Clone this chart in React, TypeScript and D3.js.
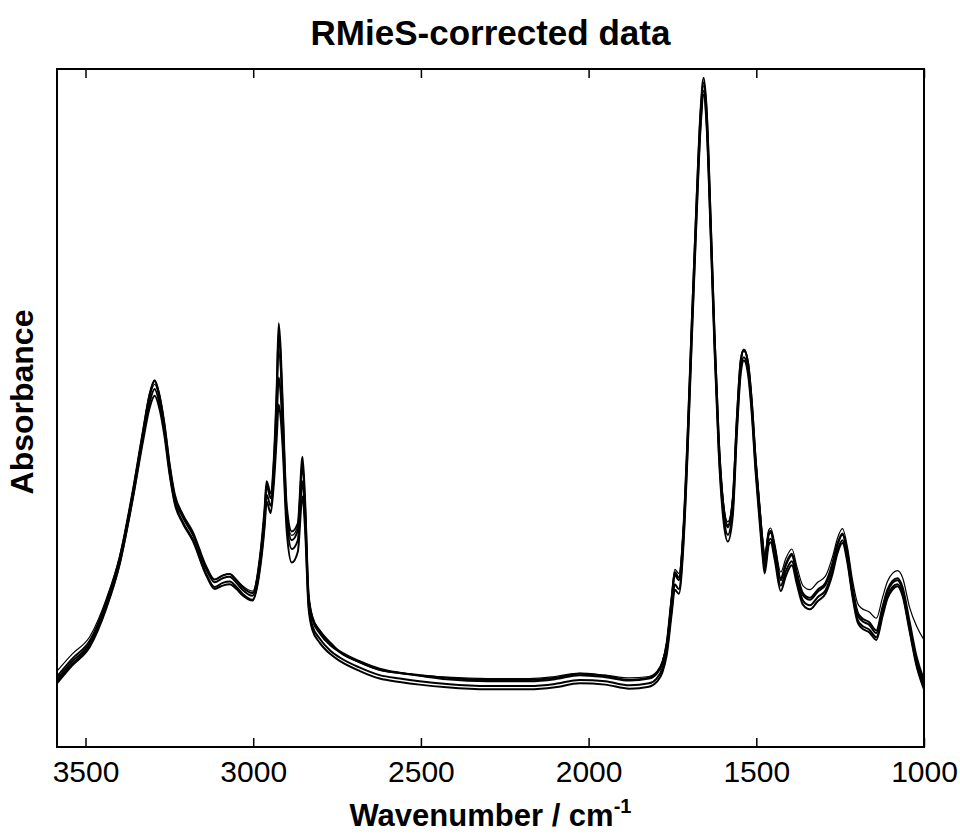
import React, { useEffect, useRef } from 'react';
import * as d3 from 'd3';

// wavenumbers (cm^-1), shared by all spectra
const wavenumbers = [
  3585, 3540, 3487, 3437, 3398, 3359, 3329, 3309, 3294, 3280,
  3265, 3249, 3234, 3210, 3180, 3139, 3115, 3091, 3070, 3050,
  3032, 3002, 2981, 2966, 2960, 2948, 2939, 2930, 2924, 2918,
  2912, 2900, 2885, 2867, 2853, 2845, 2835, 2823, 2802, 2770,
  2742, 2682, 2623, 2563, 2504, 2423, 2300, 2176, 2100, 2027,
  1950, 1878, 1820, 1797, 1780, 1767, 1752, 1743, 1731, 1717,
  1705, 1693, 1678, 1666, 1657, 1648, 1636, 1624, 1612, 1597,
  1585, 1570, 1558, 1546, 1537, 1525, 1514, 1502, 1490, 1481,
  1475, 1463, 1457, 1445, 1427, 1412, 1394, 1379, 1361, 1340,
  1317, 1294, 1273, 1258, 1243, 1228, 1213, 1198, 1187, 1163,
  1142, 1124, 1109, 1094, 1079, 1064, 1043, 1022, 1000,
];

const spectrum1 = [
  0.100, 0.126, 0.153, 0.212, 0.276, 0.375, 0.463, 0.519, 0.541, 0.519,
  0.475, 0.413, 0.369, 0.339, 0.313, 0.261, 0.243, 0.249, 0.251, 0.242,
  0.232, 0.223, 0.271, 0.345, 0.386, 0.367, 0.413, 0.516, 0.612, 0.571,
  0.493, 0.345, 0.305, 0.320, 0.416, 0.350, 0.221, 0.187, 0.168, 0.150,
  0.140, 0.125, 0.114, 0.109, 0.106, 0.102, 0.099, 0.099, 0.102, 0.108,
  0.105, 0.099, 0.102, 0.109, 0.124, 0.150, 0.217, 0.254, 0.246, 0.320,
  0.453, 0.615, 0.807, 0.940, 0.987, 0.940, 0.777, 0.600, 0.453, 0.350,
  0.324, 0.364, 0.482, 0.571, 0.586, 0.568, 0.512, 0.423, 0.350, 0.298,
  0.273, 0.313, 0.316, 0.291, 0.246, 0.268, 0.283, 0.254, 0.224, 0.217,
  0.229, 0.239, 0.268, 0.298, 0.313, 0.283, 0.232, 0.195, 0.187, 0.180,
  0.168, 0.202, 0.229, 0.242, 0.246, 0.232, 0.180, 0.128, 0.094,
];

const spectrum2 = [
  0.094, 0.120, 0.148, 0.206, 0.270, 0.368, 0.455, 0.508, 0.528, 0.508,
  0.466, 0.405, 0.362, 0.332, 0.306, 0.254, 0.236, 0.242, 0.244, 0.236,
  0.226, 0.217, 0.262, 0.332, 0.372, 0.356, 0.398, 0.480, 0.545, 0.520,
  0.462, 0.335, 0.292, 0.305, 0.392, 0.332, 0.212, 0.178, 0.160, 0.142,
  0.132, 0.117, 0.106, 0.101, 0.097, 0.093, 0.090, 0.090, 0.093, 0.099,
  0.097, 0.091, 0.094, 0.101, 0.116, 0.142, 0.205, 0.240, 0.233, 0.308,
  0.440, 0.600, 0.790, 0.922, 0.968, 0.922, 0.762, 0.588, 0.442, 0.340,
  0.313, 0.352, 0.470, 0.560, 0.575, 0.557, 0.502, 0.413, 0.340, 0.288,
  0.264, 0.304, 0.307, 0.282, 0.238, 0.259, 0.274, 0.246, 0.216, 0.209,
  0.221, 0.231, 0.260, 0.290, 0.305, 0.275, 0.225, 0.188, 0.180, 0.173,
  0.162, 0.196, 0.223, 0.236, 0.240, 0.226, 0.174, 0.122, 0.088,
];

const spectrum3 = [
  0.097, 0.122, 0.150, 0.208, 0.271, 0.366, 0.450, 0.500, 0.518, 0.500,
  0.460, 0.401, 0.359, 0.330, 0.304, 0.252, 0.233, 0.238, 0.240, 0.233,
  0.224, 0.216, 0.258, 0.325, 0.362, 0.345, 0.385, 0.455, 0.505, 0.485,
  0.440, 0.318, 0.272, 0.288, 0.370, 0.318, 0.205, 0.172, 0.154, 0.137,
  0.127, 0.112, 0.101, 0.096, 0.092, 0.088, 0.085, 0.085, 0.088, 0.094,
  0.092, 0.086, 0.089, 0.096, 0.110, 0.136, 0.198, 0.232, 0.226, 0.300,
  0.432, 0.592, 0.782, 0.915, 0.962, 0.915, 0.755, 0.580, 0.434, 0.330,
  0.303, 0.342, 0.462, 0.553, 0.570, 0.551, 0.495, 0.405, 0.332, 0.280,
  0.256, 0.298, 0.302, 0.276, 0.230, 0.252, 0.268, 0.240, 0.210, 0.203,
  0.215, 0.226, 0.255, 0.286, 0.301, 0.271, 0.221, 0.184, 0.176, 0.169,
  0.158, 0.192, 0.219, 0.232, 0.237, 0.223, 0.171, 0.119, 0.085,
];

const spectrum4 = [
  0.104, 0.130, 0.157, 0.216, 0.280, 0.378, 0.465, 0.520, 0.540, 0.520,
  0.478, 0.417, 0.373, 0.343, 0.317, 0.265, 0.247, 0.253, 0.255, 0.246,
  0.236, 0.227, 0.276, 0.352, 0.392, 0.374, 0.420, 0.528, 0.625, 0.585,
  0.505, 0.355, 0.318, 0.330, 0.428, 0.360, 0.226, 0.191, 0.172, 0.154,
  0.140, 0.125, 0.114, 0.109, 0.105, 0.100, 0.097, 0.097, 0.100, 0.106,
  0.103, 0.098, 0.101, 0.108, 0.124, 0.154, 0.222, 0.258, 0.250, 0.325,
  0.458, 0.618, 0.805, 0.935, 0.980, 0.935, 0.775, 0.600, 0.455, 0.352,
  0.327, 0.367, 0.484, 0.572, 0.586, 0.568, 0.513, 0.425, 0.353, 0.301,
  0.276, 0.316, 0.319, 0.294, 0.249, 0.270, 0.285, 0.257, 0.227, 0.220,
  0.232, 0.242, 0.271, 0.300, 0.315, 0.286, 0.235, 0.199, 0.191, 0.184,
  0.172, 0.206, 0.232, 0.245, 0.249, 0.236, 0.185, 0.133, 0.099,
];

// the thin one with the raised baseline
const spectrum5 = [
  0.112, 0.137, 0.163, 0.220, 0.282, 0.377, 0.462, 0.515, 0.535, 0.515,
  0.473, 0.412, 0.369, 0.340, 0.315, 0.264, 0.247, 0.253, 0.255, 0.247,
  0.238, 0.230, 0.276, 0.348, 0.385, 0.368, 0.410, 0.505, 0.585, 0.550,
  0.478, 0.348, 0.312, 0.326, 0.410, 0.352, 0.226, 0.192, 0.172, 0.152,
  0.142, 0.127, 0.116, 0.110, 0.106, 0.103, 0.101, 0.101, 0.104, 0.109,
  0.106, 0.102, 0.104, 0.111, 0.127, 0.155, 0.226, 0.262, 0.256, 0.328,
  0.458, 0.615, 0.800, 0.930, 0.975, 0.930, 0.770, 0.597, 0.455, 0.356,
  0.332, 0.370, 0.485, 0.570, 0.584, 0.567, 0.513, 0.427, 0.357, 0.308,
  0.284, 0.320, 0.323, 0.300, 0.258, 0.278, 0.292, 0.266, 0.238, 0.232,
  0.243, 0.252, 0.280, 0.308, 0.322, 0.294, 0.246, 0.212, 0.205, 0.199,
  0.190, 0.220, 0.244, 0.256, 0.260, 0.250, 0.206, 0.178, 0.158,
];

const spectra = [spectrum5, spectrum3, spectrum2, spectrum4, spectrum1];
const lineWidths = [1.2, 2, 2, 2, 2];
const xTicks = [3500, 3000, 2500, 2000, 1500, 1000];

const FONT = '"Liberation Sans", Arial, Helvetica, sans-serif';

const App = () => {
  const svgRef = useRef<SVGSVGElement>(null);

  useEffect(() => {
    const width = 960;
    const height = 834;
    const margin = { top: 69, right: 36, bottom: 87, left: 57 };

    const svg = d3.select(svgRef.current);
    svg.selectAll('*').remove();

    const x = d3.scaleLinear()
      .domain([3585, 1000])
      .range([margin.left, width - margin.right]);

    const y = d3.scaleLinear()
      .domain([0, 1])
      .range([height - margin.bottom, margin.top]);

    svg.append('rect')
      .attr('width', width)
      .attr('height', height)
      .attr('fill', '#fff');

    svg.append('defs').append('clipPath')
      .attr('id', 'plot-clip')
      .append('rect')
      .attr('x', margin.left)
      .attr('y', margin.top)
      .attr('width', width - margin.left - margin.right)
      .attr('height', height - margin.top - margin.bottom);

    const line = d3.line<number>()
      .x((d, i) => x(wavenumbers[i]))
      .y(d => y(d))
      .curve(d3.curveMonotoneX);

    svg.append('g')
      .attr('clip-path', 'url(#plot-clip)')
      .selectAll('path')
      .data(spectra)
      .join('path')
      .attr('fill', 'none')
      .attr('stroke', '#000')
      .attr('stroke-linejoin', 'round')
      .attr('stroke-width', (d, i) => lineWidths[i])
      .attr('d', d => line(d));

    // bottom axis, ticks pointing inward
    const xAxis = d3.axisBottom(x)
      .tickValues(xTicks)
      .tickFormat(d3.format('d'))
      .tickSizeInner(-9)
      .tickSizeOuter(0)
      .tickPadding(14);

    const gx = svg.append('g')
      .attr('transform', `translate(0, ${height - margin.bottom})`)
      .call(xAxis);
    gx.select('.domain').remove();
    gx.selectAll('line').attr('stroke', '#000').attr('stroke-width', 1.5);
    gx.selectAll('text')
      .attr('fill', '#000')
      .style('font-family', FONT)
      .style('font-size', '30px');

    const gxTop = svg.append('g')
      .attr('transform', `translate(0, ${margin.top})`)
      .call(d3.axisTop(x).tickValues(xTicks).tickSizeInner(-9).tickSizeOuter(0).tickFormat(() => ''));
    gxTop.select('.domain').remove();
    gxTop.selectAll('line').attr('stroke', '#000').attr('stroke-width', 1.5);

    // box
    svg.append('rect')
      .attr('x', margin.left)
      .attr('y', margin.top)
      .attr('width', width - margin.left - margin.right)
      .attr('height', height - margin.top - margin.bottom)
      .attr('fill', 'none')
      .attr('stroke', '#000')
      .attr('stroke-width', 2);

    const cx = (margin.left + width - margin.right) / 2;

    svg.append('text')
      .attr('x', cx)
      .attr('y', 45)
      .attr('text-anchor', 'middle')
      .style('font-family', FONT)
      .style('font-weight', 'bold')
      .style('font-size', '35px')
      .text('RMieS-corrected data');

    const xl = svg.append('text')
      .attr('x', cx)
      .attr('y', 826)
      .attr('text-anchor', 'middle')
      .style('font-family', FONT)
      .style('font-weight', 'bold')
      .style('font-size', '31px');
    xl.append('tspan').text('Wavenumber / cm');
    xl.append('tspan')
      .attr('dy', -13)
      .style('font-size', '20px')
      .text('-1');

    svg.append('text')
      .attr('transform', `translate(33, ${(margin.top + height - margin.bottom) / 2 - 6}) rotate(-90)`)
      .attr('text-anchor', 'middle')
      .style('font-family', FONT)
      .style('font-weight', 'bold')
      .style('font-size', '32px')
      .text('Absorbance');
  }, []);

  return (
    <svg
      ref={svgRef}
      width={960}
      height={834}
      style={{ position: 'absolute', left: 0, top: 0 }}
    />
  );
};

export default App;
